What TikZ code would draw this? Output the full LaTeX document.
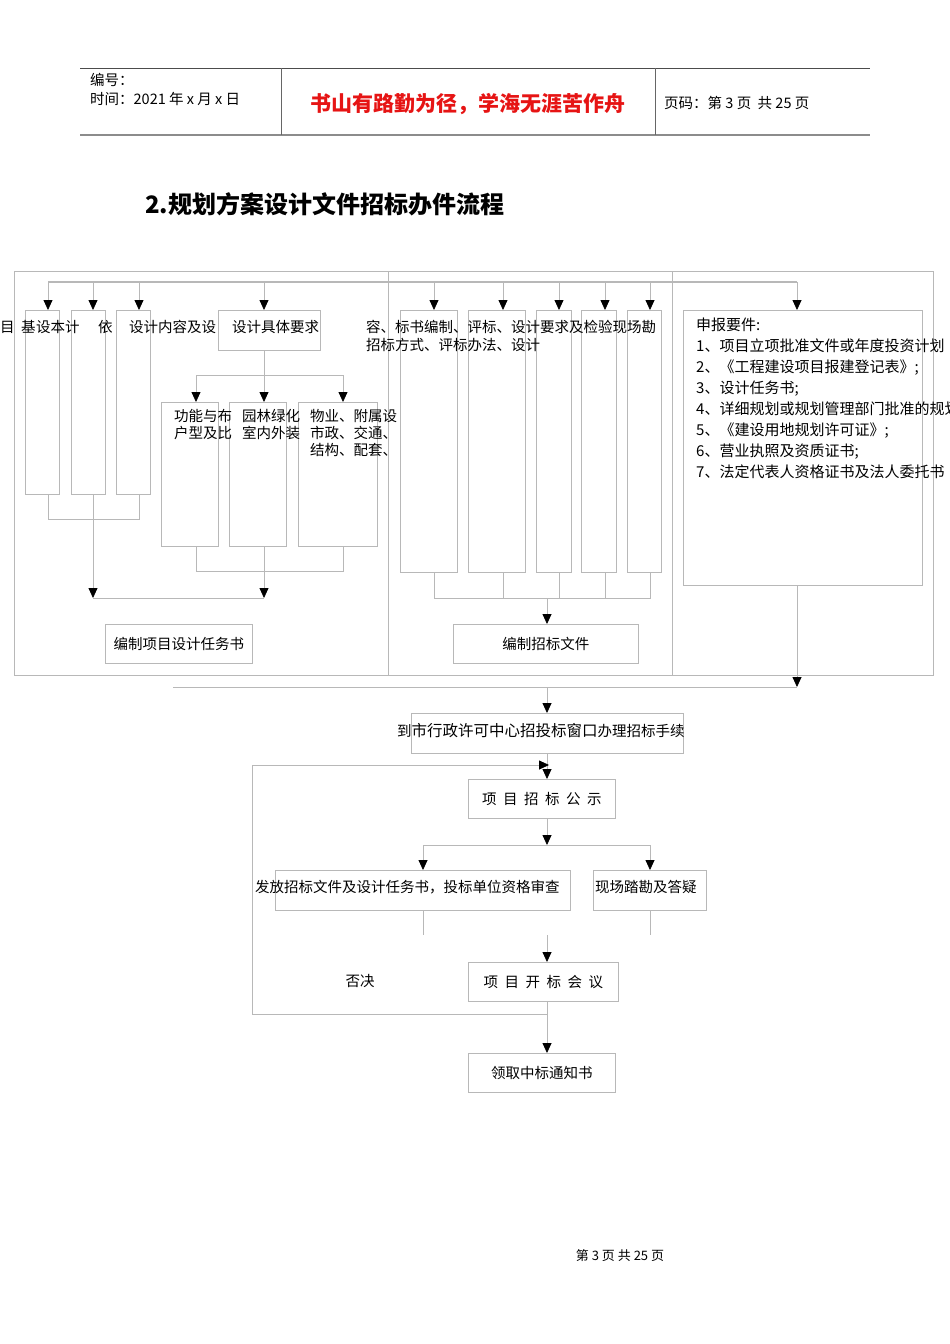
\documentclass[tikz,border=0pt]{standalone}
\usepackage{fontspec}
\setmainfont{Liberation Serif}
\newfontfamily\cjk{Noto Sans CJK SC}
\usetikzlibrary{arrows.meta}
\definecolor{ln}{gray}{0.72}
\definecolor{mred}{RGB}{230,20,20}
\tikzset{
 box/.style={draw=ln,line width=0.8pt,inner sep=0pt,anchor=north west},
 tx/.style={anchor=west,inner sep=0pt,font=\cjk\fontsize{14.5}{17}\selectfont},
 ctx/.style={inner sep=0pt,font=\cjk\fontsize{14.5}{17}\selectfont},
 ln/.style={draw=ln,line width=0.8pt},
 ar/.style={draw=ln,line width=0.8pt,-{Triangle[length=10pt,width=9pt,color=black]}},
}
\newcommand{\bx}[5]{\node[box,minimum width=#3pt,minimum height=#4pt] (#5) at (#1,#2) {};}
\begin{document}
\begin{tikzpicture}[x=1pt,y=-1pt]
\useasboundingbox (0,0) rectangle (950,1344);
% header
\draw[line width=0.8pt,black!70] (80,68) -- (870,68);
\draw[line width=1.6pt,black!45] (80,135) -- (870,135);
\draw[line width=0.8pt,black!60] (281,68) -- (281,135) (655,68) -- (655,135);
\node[tx,font=\cjk\fontsize{14.5}{16}\selectfont] (h1) at (90,80) {编号：};
\node[tx,font=\cjk\fontsize{14.5}{16}\selectfont] (h2) at (90,99) {时间：2021 年 x 月 x 日};
\node[ctx,font=\cjk\bfseries\fontsize{21}{23}\selectfont,text=mred] (motto) at (468,104) {书山有路勤为径，学海无涯苦作舟};
\node[tx,font=\cjk\fontsize{14.5}{16}\selectfont] (h3) at (664,103) {页码：第 3 页\ \ 共 25 页};
\node[tx,font=\cjk\bfseries\fontsize{24}{26}\selectfont] (title) at (145,204) {2.规划方案设计文件招标办件流程};
% frame
\draw[ln] (14,271) rectangle (933,675);
\draw[ln] (388,271) -- (388,675) (672,271) -- (672,675);
\draw[draw=ln,line width=2pt] (48,282) -- (797,282);
% left boxes
\bx{25}{310}{34}{184}{a1}
\bx{71}{310}{34}{184}{a2}
\bx{116}{310}{34}{184}{a3}
\bx{218}{310}{102}{40}{a4}
\node[tx] (ta) at (0,327) {目\ \ 基};
\node[tx] (tb) at (36,327) {设本计};
\node[tx] (tc) at (98,327) {依};
\node[tx] (td) at (129,327) {设计内容及设};
\node[tx] (te) at (232,327) {设计具体要求};
\bx{161}{402}{57}{144}{b1}
\bx{229}{402}{57}{144}{b2}
\bx{298}{402}{79}{144}{b3}
\node[tx,align=left,anchor=north west] (tf) at (174,409) {功能与布\\户型及比};
\node[tx,align=left,anchor=north west] (tg) at (242,409) {园林绿化\\室内外装};
\node[tx,align=left,anchor=north west] (th) at (310,409) {物业、附属设\\市政、交通、\\结构、配套、};
\bx{105}{624}{147}{39}{c1}
\node[ctx] at (c1) {编制项目设计任务书};
% middle boxes
\bx{400}{310}{57}{262}{m1}
\bx{468}{310}{57}{262}{m2}
\bx{536}{310}{35}{262}{m3}
\bx{581}{310}{35}{262}{m4}
\bx{627}{310}{34}{262}{m5}
\node[tx] (tm1) at (366,327) {容、标书编制、评标、设计要求及检验现场勘};
\node[tx] (tm2) at (366,345) {招标方式、评标办法、设计};
\bx{453}{624}{185}{39}{c2}
\node[ctx] at (c2) {编制招标文件};
% right box
\bx{683}{310}{239}{275}{r1}
\node[tx,align=left,anchor=north west,font=\cjk\fontsize{15}{21}\selectfont] (rt) at (696,318) {申报要件:\\1、项目立项批准文件或年度投资计划\\2、《工程建设项目报建登记表》;\\3、设计任务书;\\4、详细规划或规划管理部门批准的规划\\5、《建设用地规划许可证》;\\6、营业执照及资质证书;\\7、法定代表人资格证书及法人委托书};
% top arrows
\foreach \x in {48,93,139,264,434,503,559,605,650,797}
  \draw[ar] (\x,282) -- (\x,310);
% left connections
\draw[ln] (48,494) -- (48,519) -- (139,519) -- (139,494);
\draw[ln] (93,494) -- (93,519);
\draw[ar] (93,519) -- (93,598);
\draw[ln] (93,598) -- (264,598);
\draw[ar] (264,350) -- (264,402);
\draw[ln] (196,375) -- (343,375);
\draw[ar] (196,375) -- (196,402);
\draw[ar] (343,375) -- (343,402);
\draw[ln] (196,546) -- (196,571) -- (343,571) -- (343,546);
\draw[ar] (264,546) -- (264,598);
% middle connections
\draw[ln] (434,572) -- (434,598) -- (650,598) -- (650,572);
\foreach \x in {503,559,605} \draw[ln] (\x,572) -- (\x,598);
\draw[ar] (547,598) -- (c2.north -| 547,0);
% to window
\draw[ar] (797,585) -- (797,687);
\draw[ln] (173,687) -- (797,687);
\bx{411}{713}{272}{40}{d1}
\draw[ar] (547,687) -- (547,713);
\node[tx] (td1) at (397,731) {到{\cjk\fontsize{15.5}{17}\selectfont 市行政许可中心招投标窗口}办理招标手续};
\bx{468}{779}{147}{39}{d2}
\node[ctx] at (d2) {项\ \ 目\ \ 招\ \ 标\ \ 公\ \ 示};
\draw[ar] (547,753) -- (547,779);
\draw[ar] (252,1014) -- (252,765) -- (549,765);
\draw[ln] (252,1014) -- (547,1014);
\draw[ar] (547,818) -- (547,845);
\draw[ln] (423,845) -- (650,845);
\bx{275}{870}{295}{40}{e1}
\bx{593}{870}{113}{40}{e2}
\draw[ar] (423,845) -- (423,870);
\draw[ar] (650,845) -- (650,870);
\node[tx] (te1) at (255,887) {发放招标文件及设计任务书，投标单位资格审查};
\node[tx] (te2) at (595,887) {现场踏勘及答疑};
\draw[ln] (423,910) -- (423,935) (650,910) -- (650,935);
\bx{468}{962}{150}{39}{f1}
\node[ctx] at (f1) {项\ \ 目\ \ 开\ \ 标\ \ 会\ \ 议};
\draw[ar] (547,935) -- (547,962);
\node[ctx] (fj) at (360,981) {否决};
\bx{468}{1053}{147}{39}{g1}
\node[ctx] at (g1) {领取中标通知书};
\draw[ar] (547,1001) -- (547,1053);
\node[ctx,font=\cjk\fontsize{13}{15}\selectfont] (foot) at (620,1256) {第\ 3\ 页\ 共\ 25\ 页};
\end{tikzpicture}
\end{document}
